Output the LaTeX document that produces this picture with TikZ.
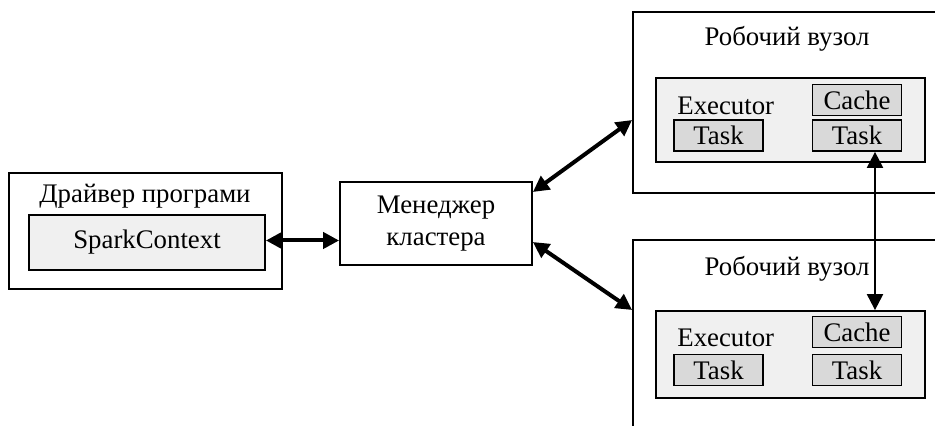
\documentclass[tikz,border=0pt]{standalone}
\usepackage{fontspec}
\setmainfont{Liberation Serif}
\usetikzlibrary{arrows.meta}
\begin{document}
\begin{tikzpicture}[x=0.5pt,y=-0.5pt,
    every node/.style={font=\fontsize{13.4}{16}\selectfont},
    box/.style={draw,line width=0.9pt,inner sep=0pt},
    execbox/.style={box,fill=black!6},
    taskbox/.style={box,fill=black!15,minimum width=44.5pt,minimum height=15.5pt},
    link/.style={{Triangle[length=8pt,width=8pt]}-{Triangle[length=8pt,width=8pt]},line width=2pt}]
  \useasboundingbox (0,0) rectangle (935,426);
  \clip (0,0) rectangle (935,426);
  % driver
  \node[box,minimum width=136.5pt,minimum height=58pt] (driver) at (145.5,231) {};
  \node (drvlabel) at (145,196) {Драйвер програми};
  \node[execbox,minimum width=118pt,minimum height=27.5pt] (spark) at (147,242.5) {SparkContext};
  % cluster manager
  \node[box,minimum width=96pt,minimum height=41.5pt,align=center] (manager) at (436,223.5) {Менеджер\\кластера};
  % worker nodes
  \node[box,minimum width=163.5pt,minimum height=90.5pt] (worker1) at (796.5,102.5) {};
  \node[box,minimum width=163.5pt,minimum height=110pt] (worker2) at (796.5,350) {};
  \node (title1) at (787,39) {Робочий вузол};
  \node (title2) at (787,269) {Робочий вузол};
  \node[execbox,minimum width=134.5pt,minimum height=42pt] (exec1) at (790.5,120) {};
  \node[anchor=west,inner sep=0pt] (execlabel1) at (677,106) {Executor};
  \node[taskbox] (task1a) at (718.5,135.5) {Task};
  \node[taskbox] (cache1) at (857,100) {Cache};
  \node[taskbox] (task1b) at (857,135.5) {Task};
  \node[execbox,minimum width=134.5pt,minimum height=43.5pt] (exec2) at (790.5,354.5) {};
  \node[anchor=west,inner sep=0pt] (execlabel2) at (677,338) {Executor};
  \node[taskbox] (task2a) at (718.5,370) {Task};
  \node[taskbox] (cache2) at (857,332) {Cache};
  \node[taskbox] (task2b) at (857,370) {Task};
  % links
  \draw[link] ([yshift=1pt]spark.east) -- ([yshift=1pt]spark.east -| manager.west);
  \draw[link] ([yshift=15.75pt]manager.east) -- ([yshift=-8.75pt]worker1.west);
  \draw[link] ([yshift=-9.25pt]manager.east) -- ([yshift=20pt]worker2.west);
  \draw[link,line width=1.1pt] ([xshift=9pt]task1b.south) -- ([xshift=9pt]task1b.south |- exec2.north);
\end{tikzpicture}
\end{document}
